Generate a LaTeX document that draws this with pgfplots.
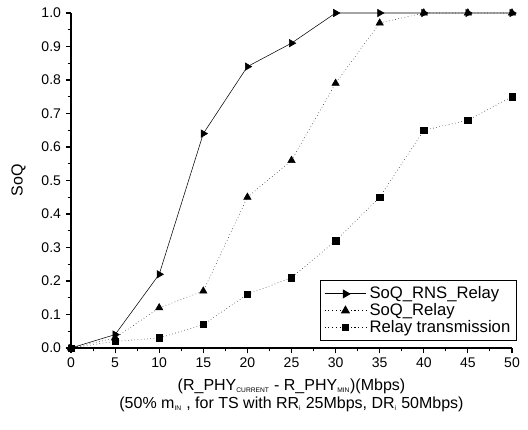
\documentclass[border=0pt]{standalone}
\usepackage{pgfplots}
\pgfplotsset{compat=1.18}
\usepackage{fontspec}
\setmainfont{Liberation Sans}

\begin{document}
\begin{tikzpicture}
\begin{axis}[
    name=ax,
    scale only axis,
    width=330.75pt, height=251.25pt,
    xmin=0, xmax=50,
    ymin=0, ymax=1,
    axis x line=bottom,
    axis y line=left,
    axis line style={-, thick},
    tick align=outside,
    tick style={black, thick},
    xtick={0,5,...,50},
    ytick={0,0.1,...,1.0},
    minor x tick num=1,
    minor y tick num=1,
    major tick length=4pt,
    minor tick length=2.5pt,
    /pgf/number format/assume math mode=true,
    yticklabel style={/pgf/number format/.cd, fixed, fixed zerofill, precision=1},
    ticklabel style={font=\fontsize{10.5}{12}\selectfont},
    label style={font=\fontsize{12}{13.5}\selectfont},
    ylabel={SoQ},
    ylabel style={yshift=5pt},
    xlabel={(R\_PHY\textsubscript{\tiny CURRENT} - R\_PHY\textsubscript{\tiny MIN})(Mbps)\\(50\% m\textsubscript{\tiny IN} , for TS with RR\textsubscript{\tiny i} 25Mbps, DR\textsubscript{\tiny i} 50Mbps)},
    xlabel style={align=center, yshift=-1pt},
    legend style={
        at={(1.011,0.021)}, anchor=south east,
        font=\fontsize{12.5}{13}\selectfont,
        draw=black, thick,
        row sep=-2pt,
        inner sep=2.5pt,
        cells={anchor=west},
    },
    legend cell align=left,
    legend image code/.code={\draw[mark repeat=2, mark phase=2, #1]
        plot coordinates {(0cm,0cm) (0.55cm,0cm) (1.1cm,0cm)};},
]
\addplot[black, solid, mark=triangle*, mark size=3.2pt, mark options={rotate=-90, solid}]
coordinates {
(0,0)(5,0.04)(10,0.22)(15,0.64)(20,0.84)(25,0.91)(30,1.0)(35,1.0)(40,1.0)(45,1.0)(50,1.0)
};
\addplot[black, dotted, mark=triangle*, mark size=3.2pt, mark options={solid}]
coordinates {
(0,0)(5,0.03)(10,0.12)(15,0.17)(20,0.45)(25,0.56)(30,0.79)(35,0.97)(40,1.0)(45,1.0)(50,1.0)
};
\addplot[black, dotted, mark=square*, mark size=2.4pt, mark options={solid}]
coordinates {
(0,0)(5,0.02)(10,0.03)(15,0.07)(20,0.16)(25,0.21)(30,0.32)(35,0.45)(40,0.65)(45,0.68)(50,0.75)
};
\legend{SoQ\_RNS\_Relay, SoQ\_Relay, Relay transmission}
\end{axis}
\path ([xshift=-53.25pt, yshift=-60.75pt]ax.south west) rectangle ([xshift=12pt, yshift=9.75pt]ax.north east);
\end{tikzpicture}
\end{document}
